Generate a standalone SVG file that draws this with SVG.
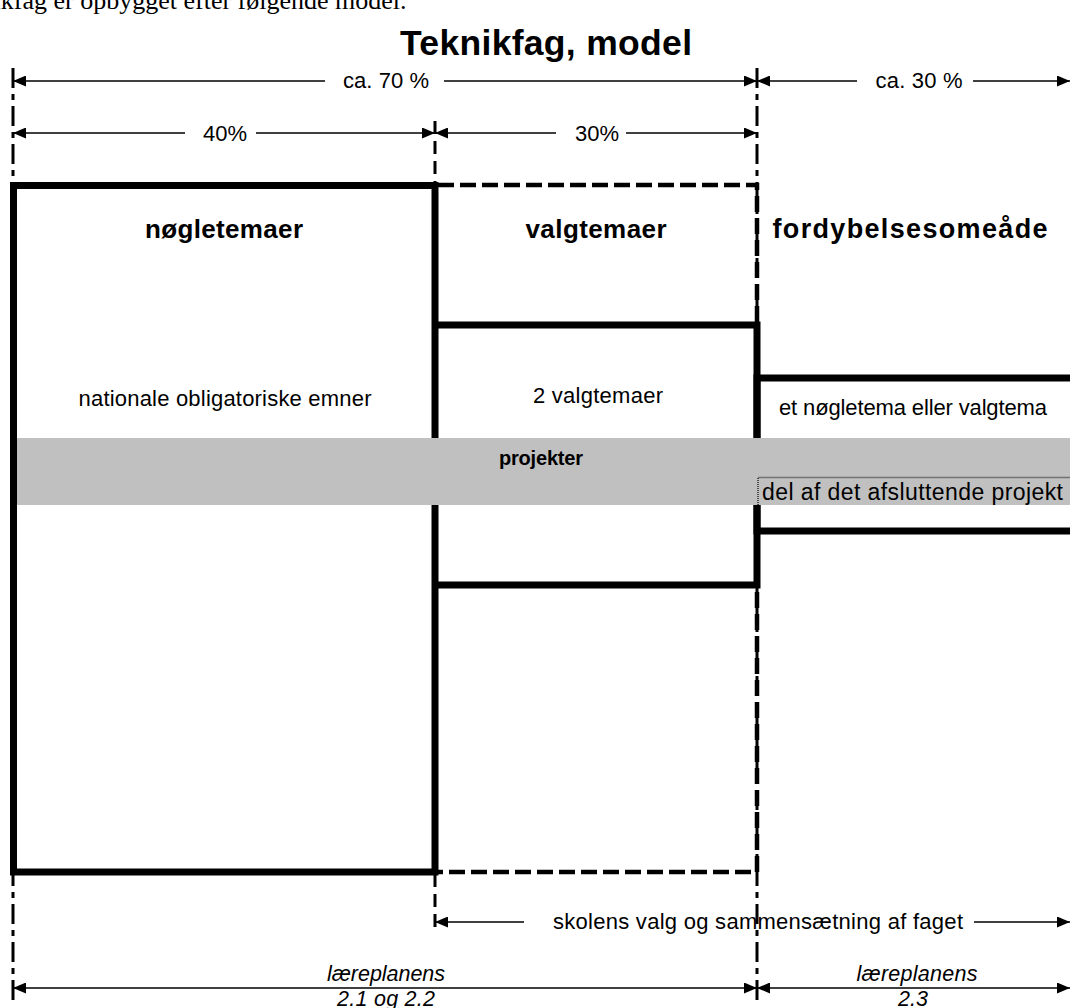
<svg xmlns="http://www.w3.org/2000/svg" width="1070" height="1008" viewBox="0 0 1070 1008">
<style>
text{font-family:"Liberation Sans",Arial,sans-serif;fill:#000}
.b{font-weight:bold}
.i{font-style:italic}
.arr{stroke:#000;stroke-width:1.6;fill:none}
.guide{stroke:#000;stroke-width:3;fill:none}
.dd{stroke-dasharray:20 6 6 6}
.ds{stroke-dasharray:13 7}
.thick{stroke:#000;stroke-width:7;fill:none}
</style>
<defs>
<marker id="ah" viewBox="0 0 13 11" refX="13" refY="5.5" markerWidth="13" markerHeight="11" markerUnits="userSpaceOnUse" orient="auto-start-reverse">
<path d="M0,0 L13,5.5 L0,11 z" fill="#000"/>
</marker>
</defs>
<rect width="1070" height="1008" fill="#fff"/>
<text x="-58" y="9" style="font-family:'Liberation Serif','Times New Roman',serif;font-size:26px">Teknikfag er opbygget efter følgende model.</text>
<text class="b" x="546" y="55" text-anchor="middle" font-size="35.5" textLength="292">Teknikfag, model</text>

<g id="guides">
<line class="guide dd" x1="13" y1="68" x2="13" y2="1000"/>
<line class="guide ds" x1="435" y1="121" x2="435" y2="185"/>
<line class="guide ds" x1="435" y1="874" x2="435" y2="930"/>
<line class="guide dd" x1="757" y1="68" x2="757" y2="1000"/>
</g>

<g id="connectors">
<line class="arr" x1="325" y1="81" x2="13" y2="81" marker-end="url(#ah)"/>
<line class="arr" x1="444" y1="81" x2="757" y2="81" marker-end="url(#ah)"/>
<line class="arr" x1="857" y1="81" x2="757" y2="81" marker-end="url(#ah)"/>
<line class="arr" x1="973" y1="81" x2="1070" y2="81" marker-end="url(#ah)"/>
<line class="arr" x1="185" y1="133" x2="13" y2="133" marker-end="url(#ah)"/>
<line class="arr" x1="256" y1="133" x2="435" y2="133" marker-end="url(#ah)"/>
<line class="arr" x1="556" y1="133" x2="435" y2="133" marker-end="url(#ah)"/>
<line class="arr" x1="626" y1="133" x2="757" y2="133" marker-end="url(#ah)"/>
<line class="arr" x1="524" y1="922" x2="435" y2="922" marker-end="url(#ah)"/>
<line class="arr" x1="974" y1="922" x2="1070" y2="922" marker-end="url(#ah)"/>
<line class="arr" x1="13" y1="988" x2="757" y2="988" marker-start="url(#ah)" marker-end="url(#ah)"/>
<line class="arr" x1="757" y1="988" x2="1070" y2="988" marker-start="url(#ah)" marker-end="url(#ah)"/>
</g>

<g id="valgtemaer">
<path d="M438,185 H757 V872 H438" stroke="#000" stroke-width="4.5" fill="none" stroke-dasharray="16 6"/>
<text class="b" x="596" y="238" text-anchor="middle" font-size="26" textLength="141">valgtemaer</text>
</g>
<g id="noegletemaer">
<rect x="13.5" y="185.5" width="421.5" height="686.5" class="thick"/>
<text class="b" x="224" y="238" text-anchor="middle" font-size="26" textLength="158">nøgletemaer</text>
</g>
<g id="fordybelse">
<text class="b" x="910" y="238" text-anchor="middle" font-size="27" textLength="275">fordybelsesomeåde</text>
</g>
<g id="to-valgtemaer">
<path d="M435,325 H757 V585 H435" class="thick"/>
</g>
<g id="fordybelse-box">
<path d="M1070,378 H757 V531 H1070" class="thick"/>
</g>

<g id="projekter">
<rect x="17" y="438" width="1053" height="67" fill="#c0c0c0"/>
<text class="b" x="499" y="465" font-size="20" textLength="84">projekter</text>
</g>
<g id="afsluttende">
<path d="M758,505 V477.5 H1070" stroke="#222" stroke-width="1.5" stroke-dasharray="1 1" fill="none"/>
<text x="762" y="500" font-size="23" textLength="301">del af det afsluttende projekt</text>
</g>

<text x="225" y="406" text-anchor="middle" font-size="22" textLength="293">nationale obligatoriske emner</text>
<text x="598" y="403" text-anchor="middle" font-size="22" textLength="130">2 valgtemaer</text>
<text x="913" y="415" text-anchor="middle" font-size="22" textLength="268">et nøgletema eller valgtema</text>

<text x="386" y="88" text-anchor="middle" font-size="22" textLength="86">ca. 70 %</text>
<text x="919" y="88" text-anchor="middle" font-size="22" textLength="87">ca. 30 %</text>
<text x="225" y="141" text-anchor="middle" font-size="22" textLength="44">40%</text>
<text x="597" y="141" text-anchor="middle" font-size="22" textLength="44">30%</text>
<text x="758" y="929" text-anchor="middle" font-size="22" textLength="410">skolens valg og sammensætning af faget</text>
<text class="i" x="386" y="981" text-anchor="middle" font-size="21.5" textLength="118">læreplanens</text>
<text class="i" x="386" y="1006" text-anchor="middle" font-size="21.5" textLength="98">2.1 og 2.2</text>
<text class="i" x="917" y="981" text-anchor="middle" font-size="21.5" textLength="121">læreplanens</text>
<text class="i" x="913" y="1006" text-anchor="middle" font-size="21.5" textLength="30">2.3</text>
</svg>
